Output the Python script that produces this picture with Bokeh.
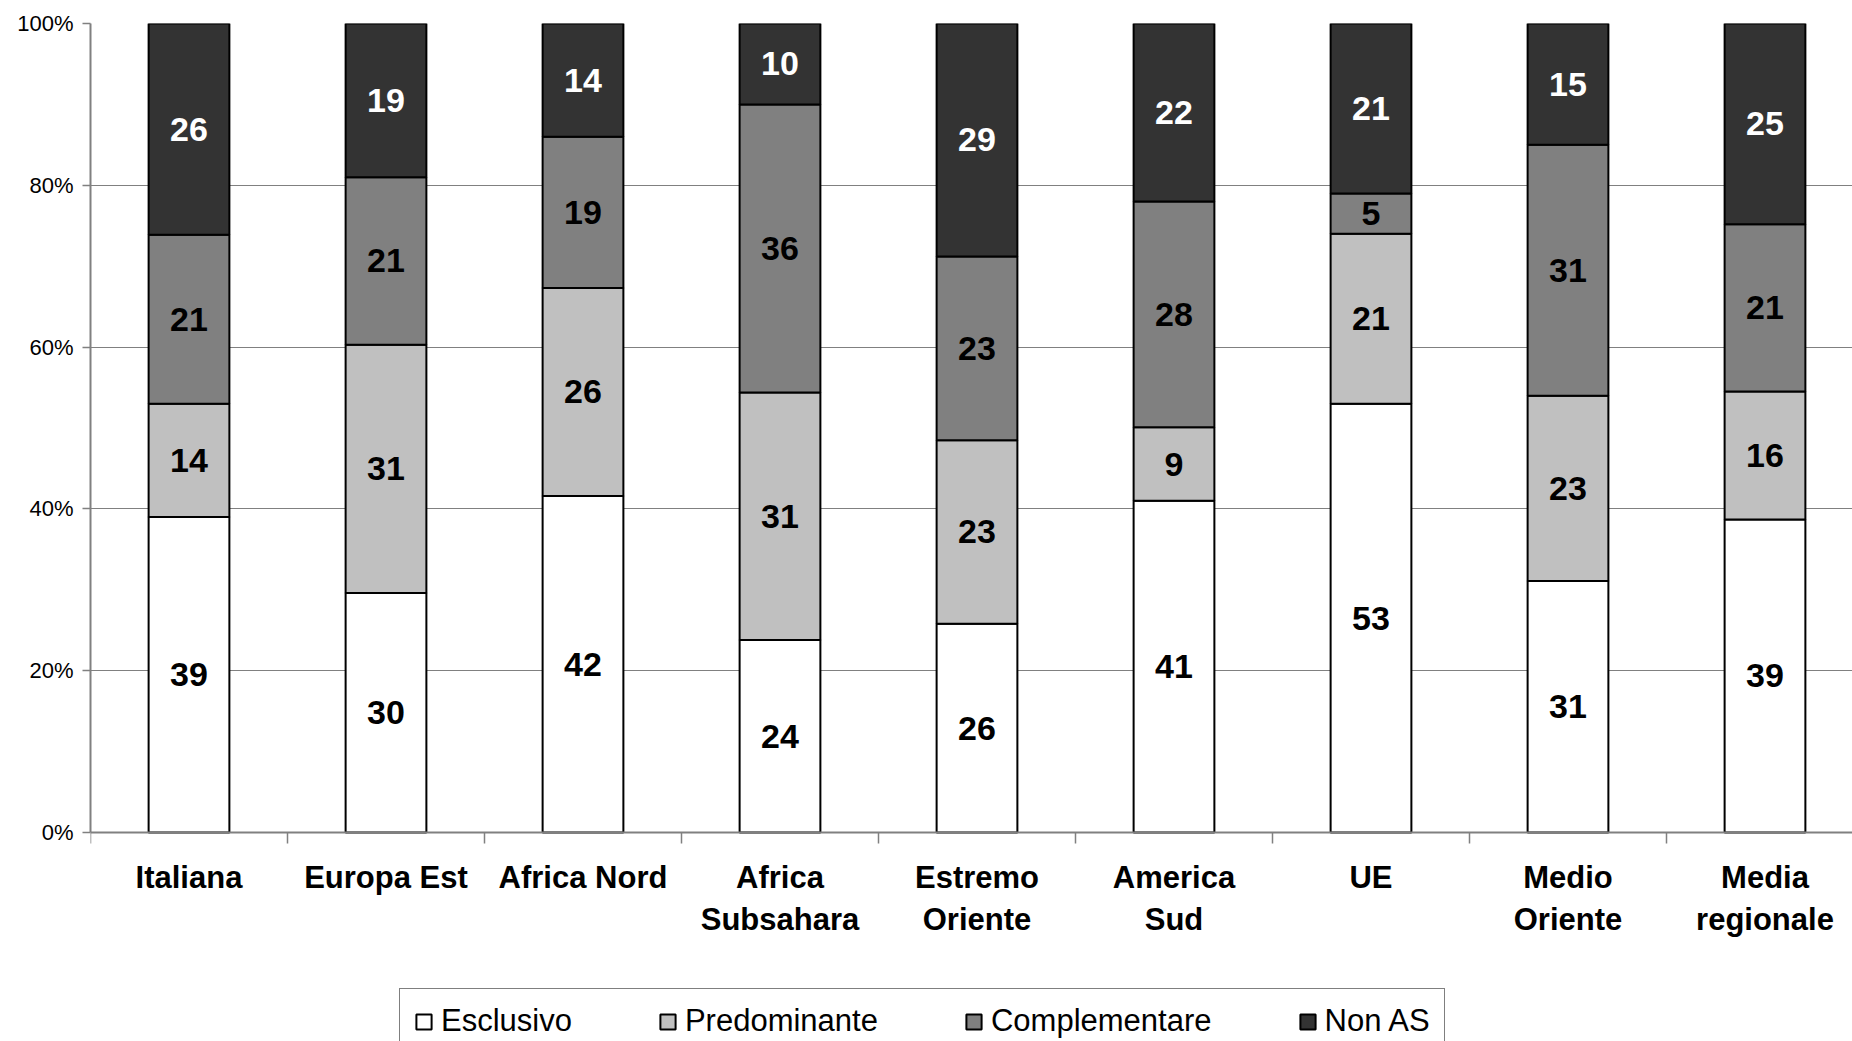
from bokeh.plotting import figure
from bokeh.models import ColumnDataSource, Range1d, FixedTicker, Legend, LegendItem
from bokeh.core.properties import value
from bokeh.embed import file_html
from bokeh.resources import INLINE

categories = ["Italiana", "Europa Est", "Africa Nord", "Africa\nSubsahara", "Estremo\nOriente",
              "America\nSud", "UE", "Medio\nOriente", "Media\nregionale"]
esclusivo = [39.0, 29.6, 41.6, 23.8, 25.8, 41.0, 53.0, 31.1, 38.7]
predominante = [14.0, 30.7, 25.7, 30.6, 22.7, 9.1, 21.0, 22.9, 15.8]
complementare = [20.9, 20.7, 18.7, 35.6, 22.7, 27.9, 5.0, 31.0, 20.7]
non_as = [26.1, 19.0, 14.0, 10.0, 28.8, 22.0, 21.0, 15.0, 24.8]
series_names = ["Esclusivo", "Predominante", "Complementare", "Non AS"]
series_colors = ["#FFFFFF", "#C0C0C0", "#808080", "#333333"]
label_colors = ["black", "black", "black", "white"]
y_ticks = [0, 20, 40, 60, 80, 100]

FONT = "Liberation Sans"
W, H = 1852, 1041
LEFT, TOP, ZERO_Y = 90, 23, 832
CAT_W = 197.0
xs = list(range(len(categories)))
keys = ["esclusivo", "predominante", "complementare", "non_as"]
data = dict(x=xs, esclusivo=esclusivo, predominante=predominante,
            complementare=complementare, non_as=non_as)
src = ColumnDataSource(data)

px_per_unit = (ZERO_Y - TOP) / 100.0
y_start = -(H - ZERO_Y) / px_per_unit
x_end = -0.5 + (W - LEFT) / CAT_W

p = figure(width=W, height=H, x_range=Range1d(-0.5, x_end), y_range=Range1d(y_start, 100),
           output_backend="svg", toolbar_location=None,
           min_border_left=LEFT, min_border_top=TOP, min_border_right=0, min_border_bottom=0)
p.outline_line_color = None
p.background_fill_color = "white"
p.border_fill_color = "white"
p.xgrid.visible = False
p.ygrid.ticker = FixedTicker(ticks=y_ticks[1:])
p.ygrid.grid_line_color = "#808080"
p.ygrid.grid_line_width = 1.2

rs = p.vbar_stack(keys, x="x", width=0.41, source=src,
                  fill_color=series_colors, line_color="black", line_width=2)

# value labels
lx, ly, lt, lc = [], [], [], []
for i in xs:
    base = 0.0
    for k, col in zip(keys, label_colors):
        v = data[k][i]
        lx.append(i)
        ly.append(base + v / 2)
        lt.append(str(int(round(v))))
        lc.append(col)
        base += v
p.text(x=lx, y=ly, text=lt, text_color=lc, text_font=value(FONT), text_font_style="bold",
       text_font_size="34px", text_align="center", text_baseline="middle")

# y axis
p.yaxis.bounds = (0, 100)
p.yaxis.ticker = FixedTicker(ticks=y_ticks, minor_ticks=[])
p.yaxis.major_label_overrides = {t: f"{t}%" for t in y_ticks}
p.yaxis.major_label_text_font = FONT
p.yaxis.major_label_text_font_size = "22px"
p.yaxis.major_label_text_color = "black"
p.yaxis.axis_line_color = "#808080"
p.yaxis.axis_line_width = 2
p.yaxis.major_tick_line_color = "#808080"
p.yaxis.major_tick_line_width = 1.5
p.yaxis.major_tick_out = 8
p.yaxis.major_tick_in = 0
p.yaxis.major_label_standoff = 9

# x axis, fixed at 0%
p.xaxis.fixed_location = 0
p.xaxis.ticker = FixedTicker(ticks=xs, minor_ticks=[i - 0.5 for i in range(len(categories) + 1)])
p.xaxis.major_label_overrides = {i: c for i, c in zip(xs, categories)}
p.xaxis.major_label_text_font = FONT
p.xaxis.major_label_text_font_style = "bold"
p.xaxis.major_label_text_font_size = "31px"
p.xaxis.major_label_text_color = "black"
p.xaxis.axis_line_color = "#808080"
p.xaxis.axis_line_width = 2
p.xaxis.major_tick_out = 0
p.xaxis.major_tick_in = 0
p.xaxis.minor_tick_out = 11
p.xaxis.minor_tick_in = 0
p.xaxis.minor_tick_line_color = "#808080"
p.xaxis.minor_tick_line_width = 1.5
p.xaxis.major_label_standoff = 16

legend = Legend(items=[LegendItem(label=n, renderers=[r]) for n, r in zip(series_names, rs)],
                orientation="horizontal", location=(309, -13),
                label_text_font=FONT, label_text_font_size="31px", label_text_color="black",
                glyph_width=19, glyph_height=19, label_standoff=8, spacing=86,
                padding=14, border_line_color="black", border_line_width=1,
                background_fill_alpha=1.0, background_fill_color="white")
p.add_layout(legend, "center")

open("out.html", "w").write(file_html(p, INLINE))
